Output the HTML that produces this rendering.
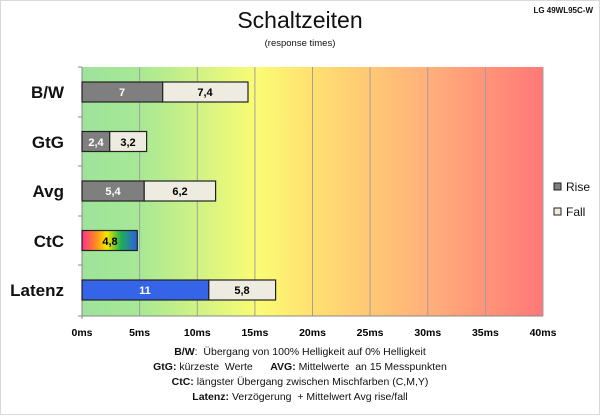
<!DOCTYPE html>
<html><head><meta charset="utf-8"><style>
body{margin:0;background:#fff;}
svg text{font-family:"Liberation Sans",Calibri,sans-serif;white-space:pre;}
</style></head><body>
<svg width="600" height="415" xmlns="http://www.w3.org/2000/svg">
<defs>
<linearGradient id="bg" x1="0" x2="1" y1="0" y2="0">
<stop offset="0" stop-color="#9ee39a"/>
<stop offset="0.12" stop-color="#a6e896"/>
<stop offset="0.38" stop-color="#fbfc74"/>
<stop offset="0.5" stop-color="#ffe070"/>
<stop offset="0.75" stop-color="#ffb07a"/>
<stop offset="1" stop-color="#ff7878"/>
</linearGradient>
<linearGradient id="rb" x1="0" x2="1">
<stop offset="0" stop-color="#ff2f8f"/>
<stop offset="0.25" stop-color="#ff8a20"/>
<stop offset="0.45" stop-color="#f5e800"/>
<stop offset="0.7" stop-color="#20b050"/>
<stop offset="1" stop-color="#2a5fe8"/>
</linearGradient>
</defs>
<rect width="600" height="415" fill="#fff"/>
<rect x="0.5" y="0.5" width="599" height="414" fill="none" stroke="#d9d9d9"/>
<rect x="82" y="67" width="461" height="249" fill="url(#bg)"/>
<g stroke="#a0a0a0" stroke-width="1">
<line x1="139.6" y1="67" x2="139.6" y2="316"/><line x1="197.3" y1="67" x2="197.3" y2="316"/>
<line x1="254.9" y1="67" x2="254.9" y2="316"/><line x1="312.5" y1="67" x2="312.5" y2="316"/>
<line x1="370.1" y1="67" x2="370.1" y2="316"/><line x1="427.8" y1="67" x2="427.8" y2="316"/>
<line x1="485.4" y1="67" x2="485.4" y2="316"/><line x1="543" y1="67" x2="543" y2="316"/>
</g>
<g stroke="#888" stroke-width="1">
<line x1="82" y1="67" x2="82" y2="319"/><line x1="82" y1="316" x2="543" y2="316"/>
<line x1="78" y1="67" x2="82" y2="67"/><line x1="78" y1="117" x2="82" y2="117"/><line x1="78" y1="166" x2="82" y2="166"/><line x1="78" y1="216" x2="82" y2="216"/><line x1="78" y1="265" x2="82" y2="265"/><line x1="78" y1="316" x2="82" y2="316"/>
</g>
<g stroke="#222" stroke-width="1.2">
<rect x="82" y="82" width="80.7" height="20" fill="#7f7f7f"/>
<rect x="162.7" y="82" width="85.3" height="20" fill="#eeece1"/>
<rect x="82" y="131.5" width="27.7" height="20" fill="#7f7f7f"/>
<rect x="109.7" y="131.5" width="36.9" height="20" fill="#eeece1"/>
<rect x="82" y="181" width="62.2" height="20" fill="#7f7f7f"/>
<rect x="144.2" y="181" width="71.4" height="20" fill="#eeece1"/>
<rect x="82" y="230.5" width="55.3" height="20" fill="url(#rb)"/>
<rect x="82" y="280" width="126.8" height="20" fill="#3564e8"/>
<rect x="208.8" y="280" width="66.8" height="20" fill="#eeece1"/>
</g>
<g font-size="11" font-weight="bold" text-anchor="middle">
<text x="122" y="96" fill="#fff">7</text><text x="205" y="96">7,4</text>
<text x="96" y="146" fill="#fff">2,4</text><text x="128" y="146">3,2</text>
<text x="113" y="195" fill="#fff">5,4</text><text x="180" y="195">6,2</text>
<text x="110" y="245">4,8</text>
<text x="145" y="294" fill="#fff">11</text><text x="242" y="294">5,8</text>
</g>
<g font-size="17" font-weight="bold" text-anchor="end" fill="#111">
<text x="64" y="98">B/W</text><text x="64" y="148">GtG</text><text x="64" y="197">Avg</text><text x="64" y="247">CtC</text><text x="64" y="296">Latenz</text>
</g>
<g font-size="10.5" font-weight="bold" text-anchor="middle">
<text x="82" y="336">0ms</text><text x="139.6" y="336">5ms</text><text x="197.3" y="336">10ms</text><text x="254.9" y="336">15ms</text><text x="312.5" y="336">20ms</text><text x="370.1" y="336">25ms</text><text x="427.8" y="336">30ms</text><text x="485.4" y="336">35ms</text><text x="543" y="336">40ms</text>
</g>
<g font-size="10.5" text-anchor="middle" fill="#111">
<text x="300" y="355"><tspan font-weight="bold">B/W</tspan>:  Übergang von 100% Helligkeit auf 0% Helligkeit</text>
<text x="300" y="370"><tspan font-weight="bold">GtG:</tspan> kürzeste  Werte      <tspan font-weight="bold">AVG:</tspan> Mittelwerte  an 15 Messpunkten</text>
<text x="300" y="385"><tspan font-weight="bold">CtC:</tspan> längster Übergang zwischen Mischfarben (C,M,Y)</text>
<text x="300" y="400"><tspan font-weight="bold">Latenz:</tspan> Verzögerung  + Mittelwert Avg rise/fall</text>
</g>
<text x="300" y="28" font-size="23" text-anchor="middle" fill="#111">Schaltzeiten</text>
<text x="300" y="46" font-size="9.5" text-anchor="middle" fill="#111">(response times)</text>
<text x="593" y="13" font-size="8" font-weight="bold" text-anchor="end" fill="#111">LG 49WL95C-W</text>
<rect x="554" y="183" width="7" height="7" fill="#7f7f7f" stroke="#222"/>
<text x="566" y="191" font-size="12" fill="#111">Rise</text>
<rect x="554" y="208" width="7" height="7" fill="#eeece1" stroke="#222"/>
<text x="566" y="216" font-size="12" fill="#111">Fall</text>
</svg>
</body></html>
